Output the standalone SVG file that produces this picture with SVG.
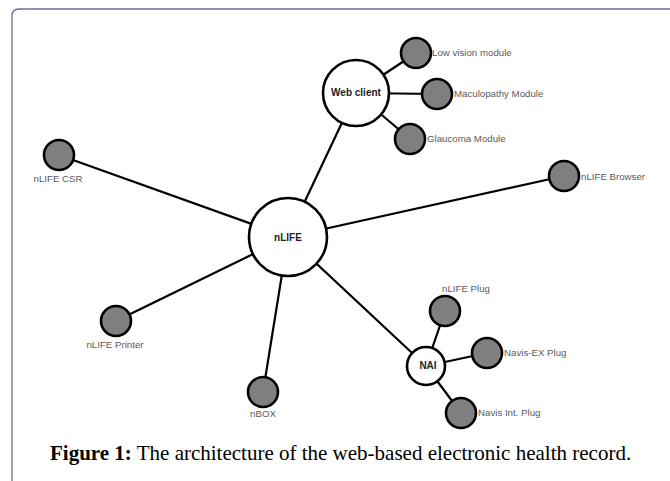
<svg xmlns="http://www.w3.org/2000/svg" width="670" height="481" viewBox="0 0 670 481">
<style>
.edge{stroke:#000;stroke-width:2.2;fill:none}
.leaf{fill:#7f7f7f;stroke:#000;stroke-width:2.6}
.hub{fill:#fff;stroke:#000;stroke-width:2.6}
.lbl{font-family:"Liberation Sans",Arial,sans-serif;font-size:9.7px;fill:#5a5a5a}
.hl{font-family:"Liberation Sans",Arial,sans-serif;font-size:10px;font-weight:bold;fill:#222;text-anchor:middle}
.cap{font-family:"Liberation Serif","Times New Roman",serif;font-size:21px;fill:#000}
</style>
<rect width="670" height="481" fill="#fff"/>
<path d="M12 481 V16 Q12 9 19 9 H670" fill="none" stroke="#6e6c9e" stroke-width="1.3"/>
<g id="connectors">
<line class="edge" x1="288" y1="237" x2="356" y2="93"/>
<line class="edge" x1="356" y1="93" x2="416" y2="53"/>
<line class="edge" x1="356" y1="93" x2="437" y2="94"/>
<line class="edge" x1="356" y1="93" x2="410" y2="139"/>
<line class="edge" x1="288" y1="237" x2="59" y2="155"/>
<line class="edge" x1="288" y1="237" x2="564" y2="176"/>
<line class="edge" x1="288" y1="237" x2="116" y2="321"/>
<line class="edge" x1="288" y1="237" x2="263" y2="392"/>
<line class="edge" x1="288" y1="237" x2="426" y2="366"/>
<line class="edge" x1="426" y1="366" x2="445" y2="311"/>
<line class="edge" x1="426" y1="366" x2="487" y2="353"/>
<line class="edge" x1="426" y1="366" x2="461" y2="413"/>
</g>
<g id="nlife"><circle class="hub" cx="288" cy="237" r="39"/><text class="hl" x="288" y="241">nLIFE</text></g>
<g id="webclient"><circle class="hub" cx="356" cy="93" r="33"/><text class="hl" x="356" y="96">Web client</text></g>
<g id="nai"><circle class="hub" cx="426" cy="366" r="19"/><text class="hl" x="428" y="369">NAI</text></g>
<g id="lowvision"><circle class="leaf" cx="416" cy="53" r="15"/><text class="lbl" x="432" y="56">Low vision module</text></g>
<g id="maculopathy"><circle class="leaf" cx="437" cy="94" r="15"/><text class="lbl" x="454" y="97">Maculopathy Module</text></g>
<g id="glaucoma"><circle class="leaf" cx="410" cy="139" r="15"/><text class="lbl" x="427" y="142">Glaucoma Module</text></g>
<g id="csr"><circle class="leaf" cx="59" cy="155" r="15"/><text class="lbl" x="58" y="182" text-anchor="middle">nLIFE CSR</text></g>
<g id="browser"><circle class="leaf" cx="564" cy="176" r="15"/><text class="lbl" x="581" y="180">nLIFE Browser</text></g>
<g id="printer"><circle class="leaf" cx="116" cy="321" r="15"/><text class="lbl" x="115" y="348" text-anchor="middle">nLIFE Printer</text></g>
<g id="nbox"><circle class="leaf" cx="263" cy="392" r="15"/><text class="lbl" x="263" y="417" text-anchor="middle">nBOX</text></g>
<g id="nlifeplug"><circle class="leaf" cx="445" cy="311" r="15"/><text class="lbl" x="466" y="292" text-anchor="middle">nLIFE Plug</text></g>
<g id="navisex"><circle class="leaf" cx="487" cy="353" r="15"/><text class="lbl" x="504" y="356">Navis-EX Plug</text></g>
<g id="navisint"><circle class="leaf" cx="461" cy="413" r="15"/><text class="lbl" x="478" y="416">Navis Int. Plug</text></g>
<text class="cap" x="50" y="460"><tspan font-weight="bold">Figure 1:</tspan> The architecture of the web-based electronic health record.</text>
</svg>
